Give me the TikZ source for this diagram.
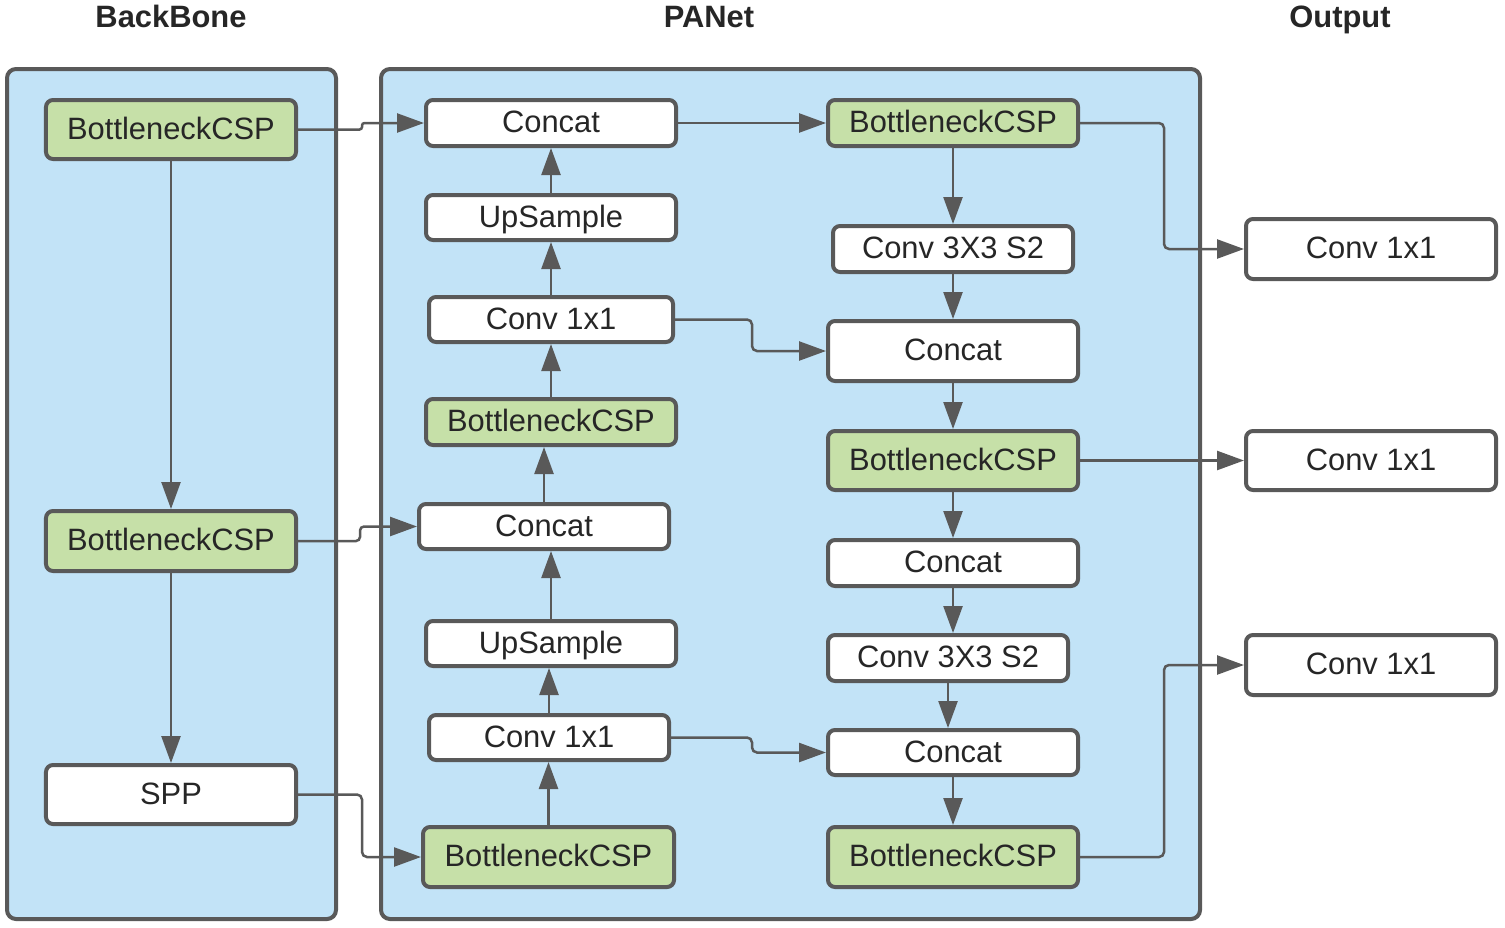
\documentclass[tikz,border=0pt]{standalone}
\usepackage{fontspec}
\setmainfont{Liberation Sans}
\usetikzlibrary{arrows.meta}
\definecolor{bord}{HTML}{595959}
\definecolor{panel}{HTML}{C2E3F7}
\definecolor{cspgreen}{HTML}{C6E0A8}
\definecolor{txt}{HTML}{262626}
\begin{document}
\begin{tikzpicture}[x=1bp,y=-1bp,
  blk/.style={draw=bord, line width=4bp, rounded corners=7bp, inner sep=0pt,
    font=\fontsize{31}{36}\selectfont, text=txt, text height=22bp, text depth=3bp},
  wbox/.style={blk, fill=white},
  gbox/.style={blk, fill=cspgreen},
  arr/.style={draw=bord, line width=2.5bp, -{Triangle[length=27bp,width=19bp]}, rounded corners=5bp},
  panelbox/.style={draw=bord, line width=4bp, fill=panel, rounded corners=9bp},
  title/.style={font=\bfseries\fontsize{31}{36}\selectfont, text=txt, anchor=base}]
\useasboundingbox (0,0) rectangle (1505,927);
% panels
\draw[panelbox] (7,69) rectangle (336,919);
\draw[panelbox] (381,69) rectangle (1200,919);
% titles
\node[title] (tbb) at (171,27) {BackBone};
\node[title] (tpa) at (709,27) {PANet};
\node[title] (tou) at (1340,27) {Output};
% backbone
\node[gbox, minimum width=250bp, minimum height=59bp] (bb1) at (171,129.5) {BottleneckCSP};
\node[gbox, minimum width=250bp, minimum height=60bp] (bb2) at (171,541) {BottleneckCSP};
\node[wbox, minimum width=250bp, minimum height=59bp] (spp) at (171,794.5) {SPP};
% PANet left column
\node[wbox, minimum width=250bp, minimum height=46bp] (c1) at (551,123) {Concat};
\node[wbox, minimum width=250bp, minimum height=45bp] (u1) at (551,217.5) {UpSample};
\node[wbox, minimum width=244bp, minimum height=45bp] (k1) at (551,319.5) {Conv 1x1};
\node[gbox, minimum width=250bp, minimum height=46bp] (g1) at (551,422) {BottleneckCSP};
\node[wbox, minimum width=250bp, minimum height=45bp] (c2) at (544,526.5) {Concat};
\node[wbox, minimum width=250bp, minimum height=45bp] (u2) at (551,643.5) {UpSample};
\node[wbox, minimum width=240bp, minimum height=45bp] (k2) at (549,737.5) {Conv 1x1};
\node[gbox, minimum width=251bp, minimum height=60bp] (g2) at (548.5,857) {BottleneckCSP};
% PANet right column
\node[gbox, minimum width=250bp, minimum height=46bp] (r1) at (953,123) {BottleneckCSP};
\node[wbox, minimum width=240bp, minimum height=46bp] (r2) at (953,249) {Conv 3X3 S2};
\node[wbox, minimum width=250bp, minimum height=60bp] (r3) at (953,351) {Concat};
\node[gbox, minimum width=250bp, minimum height=59bp] (r4) at (953,460.5) {BottleneckCSP};
\node[wbox, minimum width=250bp, minimum height=46bp] (r5) at (953,563) {Concat};
\node[wbox, minimum width=240bp, minimum height=46bp] (r6) at (948,658) {Conv 3X3 S2};
\node[wbox, minimum width=250bp, minimum height=45bp] (r7) at (953,752.5) {Concat};
\node[gbox, minimum width=250bp, minimum height=60bp] (r8) at (953,857) {BottleneckCSP};
% outputs
\node[wbox, minimum width=250bp, minimum height=60bp] (o1) at (1371,249) {Conv 1x1};
\node[wbox, minimum width=250bp, minimum height=59bp] (o2) at (1371,460.5) {Conv 1x1};
\node[wbox, minimum width=250bp, minimum height=60bp] (o3) at (1371,665) {Conv 1x1};
% backbone arrows
\draw[arr] (bb1.south) -- (bb2.north);
\draw[arr] (bb2.south) -- (spp.north);
\draw[arr, rounded corners=2.5bp] (bb1.east) -- ++(64,0) |- (c1.west);
\draw[arr, rounded corners=4bp] (bb2.east) -- ++(62,0) |- (c2.west);
\draw[arr] (spp.east) -- ++(64,0) |- (g2.west);
% left column upward
\draw[arr] (g2.north) -- (g2.north |- k2.south);
\draw[arr] (k2.north) -- (k2.north |- u2.south);
\draw[arr] (u2.north) -- (u2.north |- c2.south);
\draw[arr] (c2.north) -- (c2.north |- g1.south);
\draw[arr] (g1.north) -- (g1.north |- k1.south);
\draw[arr] (k1.north) -- (k1.north |- u1.south);
\draw[arr] (u1.north) -- (u1.north |- c1.south);
% cross
\draw[arr] (c1.east) -- (r1.west);
\draw[arr] (k1.east) -- ++(77,0) |- (r3.west);
\draw[arr] (k2.east) -- ++(81,0) |- (r7.west);
% right column downward
\draw[arr] (r1.south) -- (r1.south |- r2.north);
\draw[arr] (r2.south) -- (r2.south |- r3.north);
\draw[arr] (r3.south) -- (r3.south |- r4.north);
\draw[arr] (r4.south) -- (r4.south |- r5.north);
\draw[arr] (r5.south) -- (r5.south |- r6.north);
\draw[arr] (r6.south) -- (r6.south |- r7.north);
\draw[arr] (r7.south) -- (r7.south |- r8.north);
% outputs
\draw[arr] (r1.east) -- ++(84,0) |- (o1.west);
\draw[arr] (r4.east) -- (o2.west);
\draw[arr] (r8.east) -- ++(84,0) |- (o3.west);
\end{tikzpicture}
\end{document}
